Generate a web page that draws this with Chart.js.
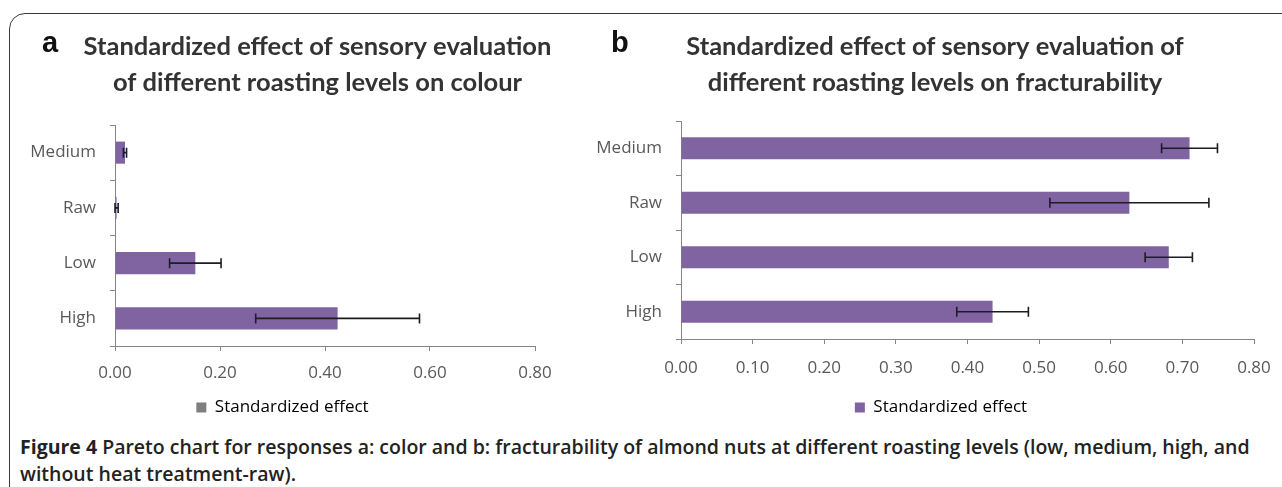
<!DOCTYPE html>
<html>
<head>
<meta charset="utf-8">
<script src="https://cdn.jsdelivr.net/npm/chart.js@4.4.0/dist/chart.umd.min.js"></script>
<style>
  body { margin: 0; background: #fff; width: 1282px; height: 487px; overflow: hidden; position: relative; font-family: "Open Sans", sans-serif; }
  #frame { position: absolute; left: 9px; top: 13px; width: 1320px; height: 520px; border: 1.5px solid #3a3a3a; border-radius: 16px; box-sizing: border-box; }
  .panel { position: absolute; top: 0; height: 430px; }
  #wrapA { left: 0; width: 636px; }
  #wrapB { left: 590px; width: 696px; }
  .letter { position: absolute; top: 28px; font-family: "Liberation Sans", Arial, sans-serif; font-weight: bold; font-size: 29px; line-height: 29px; color: #111; }
  .caption { position: absolute; left: 20px; font-size: 19.5px; line-height: 26px; font-weight: 600; color: #222; white-space: nowrap; }
  .caption b { font-weight: 700; }
</style>
</head>
<body>
<div id="frame"></div>
<div class="panel" id="wrapA"><canvas id="chartA"></canvas></div>
<div class="panel" id="wrapB"><canvas id="chartB"></canvas></div>
<div class="letter" style="left:42px">a</div>
<div class="letter" style="left:611px">b</div>
<div class="caption" style="top:434px"><b>Figure 4</b> Pareto chart for responses a: color and b: fracturability of almond nuts at different roasting levels (low, medium, high, and</div>
<div class="caption" style="top:461px">without heat treatment-raw).</div>

<script>
// categories (top to bottom) and values
const categories = ["Medium", "Raw", "Low", "High"];
const colourEffect = [0.019, 0.003, 0.153, 0.424];
const colourError = [0.003, 0.003, 0.049, 0.156];
const fractureEffect = [0.710, 0.626, 0.681, 0.435];
const fractureError = [0.039, 0.111, 0.033, 0.050];
const colourTicks = [0, 0.2, 0.4, 0.6, 0.8];
const fractureTicks = [0, 0.1, 0.2, 0.3, 0.4, 0.5, 0.6, 0.7, 0.8];

const purple = "#8064A2";
const axisGrey = "#868686";
const textGrey = "#595959";

// error bars drawn on top of the bars
const errorBars = {
  id: "errorBars",
  afterDatasetsDraw(chart, args, opts) {
    const ctx = chart.ctx;
    const xs = chart.scales.x;
    const vals = chart.data.datasets[0].data;
    ctx.save();
    ctx.strokeStyle = "#1c1c24";
    ctx.lineWidth = 1.6;
    chart.getDatasetMeta(0).data.forEach((bar, i) => {
      const e = opts.errors[i];
      const x1 = xs.getPixelForValue(vals[i] - e);
      const x2 = xs.getPixelForValue(vals[i] + e);
      const y = bar.y;
      ctx.beginPath();
      ctx.moveTo(x1, y); ctx.lineTo(x2, y);
      ctx.moveTo(x1, y - 5); ctx.lineTo(x1, y + 5);
      ctx.moveTo(x2, y - 5); ctx.lineTo(x2, y + 5);
      ctx.stroke();
    });
    ctx.restore();
  }
};

// moves title and legend sideways (Excel does not centre them on the canvas)
const boxShift = {
  id: "boxShift",
  afterLayout(chart, args, opts) {
    if (chart.titleBlock && opts.titleDx) {
      chart.titleBlock.left += opts.titleDx;
      chart.titleBlock.right += opts.titleDx;
    }
    if (chart.legend && opts.legendDx) {
      chart.legend.left += opts.legendDx;
      chart.legend.right += opts.legendDx;
    }
  }
};

function makeChart(id, cfg) {
  return new Chart(document.getElementById(id), {
    type: "bar",
    data: {
      labels: categories,
      datasets: [{
        label: "Standardized effect",
        data: cfg.values,
        backgroundColor: purple,
        borderWidth: 0,
        barPercentage: 0.4,
        categoryPercentage: 1
      }]
    },
    plugins: [errorBars, boxShift],
    options: {
      indexAxis: "y",
      responsive: true,
      maintainAspectRatio: false,
      animation: false,
      layout: { padding: { left: 0, right: cfg.padRight, top: 0, bottom: cfg.padBottom } },
      plugins: {
        errorBars: { errors: cfg.errors },
        boxShift: { titleDx: cfg.titleDx, legendDx: cfg.legendDx },
        tooltip: { enabled: false },
        title: {
          display: true,
          text: cfg.title,
          color: "#333",
          font: { family: "Lato", size: 25.5, weight: "bold", lineHeight: 36 / 25.5 },
          padding: { top: 29, bottom: cfg.titleGap }
        },
        legend: {
          position: "bottom",
          labels: {
            boxWidth: 10,
            boxHeight: 10,
            color: textGrey,
            font: { family: "Open Sans", size: 17 },
            generateLabels: () => [{
              text: "Standardized effect",
              fillStyle: cfg.legendColour,
              strokeStyle: cfg.legendColour,
              lineWidth: 0,
              hidden: false,
              datasetIndex: 0
            }]
          }
        }
      },
      scales: {
        x: {
          min: 0,
          max: 0.8,
          afterBuildTicks: s => { s.ticks = cfg.ticks.map(v => ({ value: v })); },
          afterFit: s => { s.height = cfg.xHeight; },
          ticks: {
            callback: v => Number(v).toFixed(2),
            color: textGrey,
            font: { family: "Open Sans", size: 17 },
            padding: cfg.xPad,
            maxRotation: 0,
            autoSkip: false
          },
          grid: { drawOnChartArea: false, drawTicks: true, tickLength: 5, color: axisGrey },
          border: { color: axisGrey }
        },
        y: {
          afterFit: s => { s.width = cfg.yWidth; },
          ticks: { color: textGrey, font: { family: "Open Sans", size: 17 }, padding: 14 },
          grid: { drawOnChartArea: false, drawTicks: true, tickLength: 5, color: axisGrey },
          border: { color: axisGrey }
        }
      }
    }
  });
}

makeChart("chartA", {
  values: colourEffect,
  errors: colourError,
  ticks: colourTicks,
  title: ["Standardized effect of sensory evaluation", "of different roasting levels on colour"],
  legendColour: "#7f7f7f",
  titleDx: 50,
  legendDx: 15,
  padRight: 101,
  padBottom: 4,
  titleGap: 24,
  xHeight: 43,
  xPad: 12,
  yWidth: 115
});

makeChart("chartB", {
  values: fractureEffect,
  errors: fractureError,
  ticks: fractureTicks,
  title: ["Standardized effect of sensory evaluation of", "different roasting levels on fracturability"],
  legendColour: purple,
  titleDx: 13,
  legendDx: 19,
  padRight: 32,
  padBottom: 4,
  titleGap: 20,
  xHeight: 50,
  xPad: 14,
  yWidth: 91
});
</script>
</body>
</html>
